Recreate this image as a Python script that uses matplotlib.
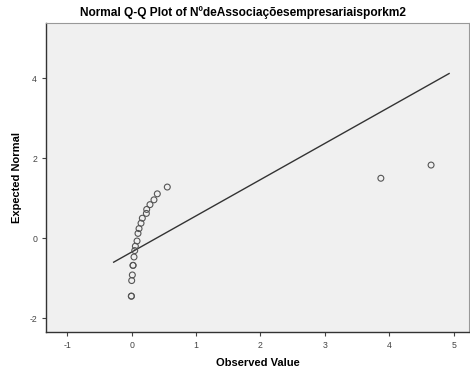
import matplotlib
matplotlib.use("Agg")
import matplotlib.pyplot as plt

plt.rcParams['font.family'] = ['Liberation Sans', 'DejaVu Sans']
plt.rcParams['axes.unicode_minus'] = False

observed = [-0.005, -0.005, 0.0, 0.010, 0.021, 0.021, 0.036, 0.047, 0.057, 0.083,
            0.098, 0.114, 0.145, 0.165, 0.228, 0.233, 0.284, 0.346, 0.398, 0.553,
            3.87, 4.65]
expected = [-1.45, -1.45, -1.06, -0.92, -0.68, -0.68, -0.47, -0.31, -0.20, -0.07,
            0.12, 0.24, 0.375, 0.50, 0.62, 0.72, 0.84, 0.96, 1.11, 1.28,
            1.50, 1.83]

# reference line endpoints
line_x = [-0.28, 4.93]
line_y = [-0.60, 4.12]

fig = plt.figure(figsize=(4.7, 3.8), dpi=100)
ax = fig.add_axes([0.098, 0.126, 0.9, 0.813])
ax.set_facecolor("#f0f0f0")

ax.plot(line_x, line_y, color="#333333", linewidth=1.0, zorder=2)
ax.scatter(observed, expected, s=18, facecolors="none", edgecolors="#555555",
           linewidths=0.8, zorder=3)

ax.set_xlim(-1.33, 5.24)
ax.set_ylim(-2.35, 5.38)
ax.set_xticks([-1, 0, 1, 2, 3, 4, 5])
ax.set_yticks([-2, 0, 2, 4])
ax.tick_params(labelsize=6.3, labelcolor="#444444", length=3, width=0.8, color="#444444")

for side in ["left", "bottom"]:
    ax.spines[side].set_color("#333333")
    ax.spines[side].set_linewidth(1.0)
for side in ["top", "right"]:
    ax.spines[side].set_color("#999999")
    ax.spines[side].set_linewidth(0.8)

ax.set_xlabel("Observed Value", fontsize=8, fontweight="bold", labelpad=6)
ax.set_ylabel("Expected Normal", fontsize=8, fontweight="bold", labelpad=5)
fig.text(0.516, 0.966, "Normal Q-Q Plot of NºdeAssociaçõesempresariaisporkm2",
         ha="center", va="center", fontsize=8.6, fontweight="bold")

fig.savefig("out.png", dpi=100)
